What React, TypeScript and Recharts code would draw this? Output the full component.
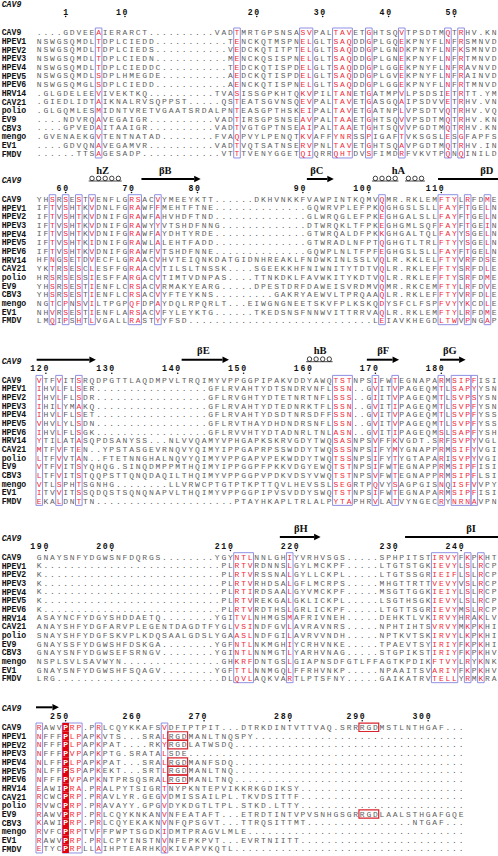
import React from 'react';
import { ScatterChart, Scatter, XAxis, YAxis, ReferenceArea } from 'recharts';

const NAMES = [
  'CAV9', 'HPEV1', 'HPEV2', 'HPEV3', 'HPEV4', 'HPEV5', 'HPEV6', 'HRV14',
  'CAV21', 'polio', 'EV9', 'CBV3', 'mengo', 'EV1', 'FMDV',
];

// aligned sequences, one array per block of the figure
const BLOCK_1 = [
  '....GDVEEAIERARCT' + '..........' + 'VADT' + 'MRTGPSNSASVPALTAVETGHTSQVTPSDTMQTRHV.KN',
  'NSWGSQMDLTDPLCIEDD' + '...........' + 'TE' + 'NCKQTMSPNELGLTSAQDDGPLGQEKPNYFLNFRSMNVD',
  'NSWGSQMDLTDPLCIEDS' + '...........' + 'VE' + 'DCKQTITPTELGLTSAQDDGPLGNDKPNYFLNFKSMNVD',
  'NSWGSQMDLTDPLCIEDN' + '...........' + 'ME' + 'NCKQSISPNELGLTSAQDDGPLGNEKPNYFLNFRTMNVD',
  'NSWGSQMDLTDPLCIEDDC' + '..........' + 'TE' + 'DCKQTISPDELGLTSAQDDGPLGGEKPNYFLNFRAVNVD',
  'NSWGSQMDLSDPLHMEGDE' + '..........' + 'AE' + 'DCKQTISPDELGLTSAQDDGPLGVEKPNYFLNFRAINVD',
  'NSWGSQMGLSDPLCIEDD' + '...........' + 'AE' + 'NCKQTISPNELGLTSAQDDGPLGGEKPNYFLNFRTMNVD',
  '.GLGDELEEVIVEKTKQ' + '..........' + 'TVAS' + 'ISSGPKHTQKVPILTANETGATMPVLPSDSIETRTT.YM',
  '.GIEDLIDTAIKNALRVSQPPST' + '.....' + 'QST' + 'EATSGVNSQEVPALTAVETGASGQAIPSDVVETRHV.VN',
  '.GLGQMLESMIDNTVRETVGAATSRDALPNT' + 'EASGPTHSKEIPALTAVETGATNPLVPSDTVQTRHV.VQ',
  '....NDVRQAVEGAIGR' + '..........' + 'VADT' + 'IRSGPSNSEAVPALTAAETGHTSQVVPSDTMQTRHV.KN',
  '....GPVEDAITAAIGR' + '..........' + 'VADT' + 'VGTGPTNSEAIPALTAAETGHTSQVVPGDTMQTRHV.KN',
  '.GVENAEKGVTENTNATAD' + '........' + 'FVAQ' + 'PVYLPENQTKVAFFYNRSSPIGAFTVKSGSLESGFAPFS',
  '....GDVQNAVEGAMVR' + '..........' + 'VADT' + 'VQTSATNSERVPNLTAVETGHTSQAVPGDTMQTRHV.IN',
  '......TTSAGESADP' + '............' + 'VTT' + 'TVENYGGETQIQRRQHTDVSFIMDRFVKVTPQNQINILD',
];

const BLOCK_2 = [
  'YHSRSESTVENFLGRSACVYMEEYKTT' + '......' + 'DKHVNKKFVAWPINTKQMVQMR.RKLEMFTYLRFDME',
  'IFTVSHTKVDNLFGRAWFFMEHTFTNE' + '..............' + 'GQWRVPLEFPKQGHGSLSLLFAYFTGELN',
  'IFTVSHTKVDNIFGRAWFAHVHDFTND' + '..............' + 'GLWRQGLEFPKEGHGALSLLFAYFTGELN',
  'IFTVSHTKVDNIFGRAWYYVTSHDFNNG' + '.............' + 'DTWRQKLTFPKEGHGMLSQFFAYFTGEIN',
  'IFTVSHTKVDNIFGRAWFAYDHTYRDE' + '..............' + 'GTWRQALDFPKKGHGALTQLFAYYSGELN',
  'IFTVSHTKIDNIFGRAWLALEHTFADD' + '..............' + 'GTWRADLNFPTQGHGTLTRLFTYYSGELN',
  'IFTVSHTKVDNIFGRAWFVTSHDFNNE' + '..............' + 'GQWPLNLTFPFEGHGSLSLLFAYFTGELN',
  'HFNGSETDVECFLGRAACVHVTEIQNKDATG' + 'IDNHREAKLFNDWKINLSSLVQLR.KKLELFTYVRFDSE',
  'YKTRSESCLESFFGRAACVTILSLTNSSK' + '....' + 'SGEEKKHFNIWNITYTDTVQLR.RKLEFFTYSRFDLE',
  'HRSRSESSIESFFARGACVTIMTVDNPAS' + '....' + 'TTNKDKLFAVWKITYKDTVQLR.RKLEFFTYSRFDME',
  'YHSRSESTIENFLCRSACVRMAKYEARG' + '.....' + 'DPESTDRFDAWEISVRDMVQMR.RKCEMFTYLRFDVE',
  'YHSRSESTIENFLCRSACVYFTEYKNS' + '.........' + 'GAKRYAEWVLTPRQAAQLR.RKLEFFTYVRFDLE',
  'NGTCPNSVILTPGPQFDPAYDQLRPQRLT' + '...' + 'EIWGNGNEETSKVFPLKSKQDYSFCLFSPFVYYKCDLE',
  'NHVRSESTIENFLARSACVFYLEYKTG' + '......' + 'TKEDSNSFNNWVITTRRVAQLR.RKLEMFTYLRFDME',
  'LMQIPSHTLVGALLRASTYYFSD' + '............................' + 'LEIAVKHEGDLTWVPNGAP',
];

const BLOCK_3 = [
  'VTFVITSRQDPGTTLAQDMPVLTRQIMYVPP' + 'GGPIPAKVDDYAWQTSTNPSIFWTEGNAPARMSIPFISI',
  'IHVLFLSER' + '.................' + 'GFLRV' + 'AHTYDTSNDRVNFLSSN..GVITVPAGEQMTLSAPYYSN',
  'IHVLFLSDR' + '.................' + 'GFLRV' + 'GHTYDTETNRTNFLSSS..GIITVPAGEQMTLSVPSYSN',
  'IHILYMAKQ' + '.................' + 'GFLRV' + 'AHTYDTEDNRKTFLSSN..GVITIPAGEQMTLSVPFYSN',
  'IHVLFLSET' + '.................' + 'GFLRV' + 'AHTYDSDTNRSDFFSSN..GVITVPAGEQMTLSVPFYSS',
  'VHVLYLSDN' + '.................' + 'GFLRV' + 'THAYDHDNDRSNFLSSN..GVITVPAGEQMTLSVPFYSS',
  'IHVLFLSGK' + '.................' + 'GFLRV' + 'VHTYDTADNRLTNLASN..GVITIPAGEQMSLSAPFYSH',
  'YTILATASQPDSANYSS...NLVVQAMYVPH' + 'GAPKSKRVGDYTWQSASNPSVFFKVGDT.SRFSVPYVGL',
  'MTFVFTEN..YPSTASGEVRNQVYQIMYIPP' + 'GAPRPSSWDDYTWQSSSNPSIFYMYGNAPPRMSIFYVGI',
  'LTFVVTAN..FTETNNGHALNQVYQIMYVPP' + 'GAPVPEKWDDYTWQTSSNPSIFYTYGTAPARISVPYVGI',
  'VTFVITSYQHQG.SINQDMPPMTHQIMYIPP' + 'GGPFPKKVDGYEWQTSTNPSIFWTEGNAPPRMSIPFISI',
  'LTFVITSTQQPSTTQNQDAQILTHQIMYVPP' + 'GGPVPDKVDSYVWQTSTNPSVFWTEGNAPPRMSIPFLSI',
  'VTLSPHTSGNHG........LLVRWCPTGTP' + 'TKPTTQVLHEVSSLSEGRTPQVYSAGPGISNQISFVVPY',
  'ITVVITSSQDQSTSQNQNAPVLTHQIMYVPP' + 'GGPIPVSVDDYSWQTSTNPSIFWTEGNAPARMSIPFISI',
  'EKALDNTTN' + '.....................' + 'P' + 'TAYHKAPLTRLALPYTAPHRVLATVYNGECRYNRNAVPN',
];

const BLOCK_4 = [
  'GNAYSNFYDGWSNFDQRGS' + '........' + 'YGYN' + 'TLNNLGHIYVRHVSGS.....SPHPITSTIRVYFKPKHT',
  'K' + '...........................' + 'PLR' + 'TVRDNNSLGYLMCKPF.....LTGTSTGKIEVYLSLRCP',
  'K' + '...........................' + 'PLR' + 'TVRSSNALGYLLCKPL.....LTGTSSGRIEIFLSLRCP',
  'K' + '...........................' + 'PLR' + 'TVRHDSALGFLMCRPS.....MHGTTRTTVEVYVSLRCP',
  'K' + '...........................' + 'PLR' + 'TIRDSAALGYVMCKPF.....MSGTTGGKIEIYLSLRCP',
  'K' + '...........................' + 'PLR' + 'TVREKGALGKLICKPL.....LSGTHSGKIEVYLSLRCP',
  'K' + '...........................' + 'PLR' + 'TVRDTHSLGRLICKPF.....LTGTTSGRIEVYMSLRCP',
  'ASAYNCFYDGYSHDDAETQ' + '........' + 'YGIT' + 'VLNHMGSMAFRIVNEH.....DEHKTLVKIRVYHRAKLV',
  'ANAYSHFYDGFARVPLEGENTDAGDTFYGLV' + 'SINDFGVLAVRAVNRS.....NPHTIHTSVRVYMKPKHI',
  'SNAYSHFYDGFSKVPLKDQSAALGDSLYGAA' + 'SLNDFGILAVRVVNDH.....NPTKVTSKIRVYLKPKHI',
  'GNAYSSFYDGWSHFDSKGA' + '........' + 'YGFN' + 'TLNKMGHIYCRHVNKE.....TPAEVTSYIRIYFKPKHI',
  'GNAYSNFYDGWSEFSRNGV' + '........' + 'YGIN' + 'TLNNMGTLYARHVNAG.....STGPIKSTIRIYFKPKHV',
  'NSPLSVLSAVWYN' + '...............' + 'GHK' + 'RFDNTGSLGIAPNSDFGTLFFAGTKPDIKFTVYLRYKNK',
  'GNAYSNFYDGWSHFSQAGV' + '........' + 'YGFT' + 'TLNNMGQLFFRHVNKP.....NPAAITSVARIYFKPKHV',
  'LRG' + '.........................' + 'DLQ' + 'VLAQKVARTLPTSFNY.....GAIKATRVTELLYRMKRA',
];

const BLOCK_5 = [
  'RAWVPRP.PRLCQYKKAFSVDFTPTPIT...' + 'DTRKDINTVTTVAQ.SRRRGDMSTLNTHGAF...',
  'NFFFPLPAPKVTS...SRALRGDMANLTNQSPY',
  'NFFFPLPAPKPAT....RKYRGDLATWSDQ',
  'NFFFPVPAPKPTG.SRATALSDE',
  'NLFFPLPAPKPAT...SRALRGDMANFSDQ',
  'NLFFPSPAPKEKT...SRTLRGDMANLTNQ',
  'NFFFPVPAPKNTPRSQSRALRGDMANLTNQ',
  'EAWIPRA.PRALPYTSIGRTNYPKNTEPVIKKRKGDIKSY',
  'RCWCPRP.PRAVLYR.GEGVDMISSAILPL.TKVDSITTF',
  'RVWCPRP.PRAVAYY.GPGVDYKDGTLTPL.STKD.LTTY',
  'RAWVPRP.PRLCQYKNKANVNFEATAFT...' + 'ETRDTINTVPVSNHGSGRRGDLAALSTHGAFGQE',
  'KAWIPRP.PRLCQYEKAKNVNFQPSGVT...' + 'TTRQSITTMT................NTGAF...',
  'RVFCPRPTVFFPWPTSGDKIDMTPRAGVLMLE',
  'RAWVPRP.PRLCPYINSTNVNFEPKPVT...EVRTNIITT',
  'ETYCPRPLLAIHPTEARHKQKIVAPVKQTL',
];

const BLOCKS = [BLOCK_1, BLOCK_2, BLOCK_3, BLOCK_4, BLOCK_5];
const BLOCK_WIDTH = [70, 70, 70, 70, 65];

// framed (similar) column ranges per block
const BOXES = [
  [[9, 9], [30, 30], [40, 41], [45, 47], [50, 50], [55, 55], [62, 62], [64, 64]],
  [[2, 2], [4, 4], [6, 6], [8, 8], [14, 15], [18, 18], [52, 52], [61, 63], [65, 65], [68, 68]],
  [[0, 0], [3, 3], [6, 6], [45, 47], [51, 51], [54, 54], [61, 61], [63, 65], [66, 66]],
  [[30, 32], [38, 38], [60, 63], [65, 65], [67, 67]],
  [[0, 0], [4, 6], [9, 9], [19, 19]],
];
// strictly conserved columns (white on red)
const CONSERVED = [[], [], [], [], [4]];

// RGD motifs: [block, row, fromCol, toCol]
const RGD = [
  [4, 0, 49, 51], [4, 1, 20, 22], [4, 2, 20, 22], [4, 4, 20, 22],
  [4, 5, 20, 22], [4, 6, 20, 22], [4, 10, 49, 51],
];

// ruler labels above each block: [label, column]
const RULERS = [
  [['1', 4], ['10', 13], ['20', 33], ['30', 43], ['40', 53], ['50', 63]],
  [['60', 4], ['70', 14], ['80', 24], ['90', 40], ['100', 50], ['110', 61]],
  [['120', 1], ['130', 11], ['140', 21], ['150', 31], ['160', 41], ['170', 51], ['180', 61]],
  [['190', 1], ['200', 11], ['210', 29], ['220', 39], ['230', 54], ['240', 64]],
  [['250', 4], ['260', 15], ['270', 25], ['280', 38], ['290', 49], ['300', 59]],
];

// CAV9 secondary structure
const SECONDARY = [
  { block: 1, kind: 'helix', from: 8, to: 12, label: 'hZ', at: 9.6 },
  { block: 1, kind: 'arrow', from: 15.5, to: 23.5, label: 'βB', at: 19.1 },
  { block: 1, kind: 'arrow', from: 40.6, to: 43.7, label: 'βC', at: 42.1 },
  { block: 1, kind: 'helix', from: 51, to: 54, label: 'hA', at: 54.5 },
  { block: 1, kind: 'helix', from: 56, to: 58 },
  { block: 1, kind: 'strand', from: 60.5, to: 69.6, label: 'βD', at: 67.9 },
  { block: 2, kind: 'arrow', from: -0.4, to: 7.6 },
  { block: 2, kind: 'arrow', from: 21.6, to: 27.8, label: 'βE', at: 24.9 },
  { block: 2, kind: 'helix', from: 41, to: 44, label: 'hB', at: 42.6 },
  { block: 2, kind: 'arrow', from: 49.7, to: 53.6, label: 'βF', at: 52.2 },
  { block: 2, kind: 'arrow', from: 60.8, to: 63.7, label: 'βG', at: 62.3 },
  { block: 3, kind: 'arrow', from: 36.5, to: 41.7, label: 'βH', at: 39.7 },
  { block: 3, kind: 'strand', from: 55.5, to: 69.6, label: 'βI', at: 65.5 },
  { block: 4, kind: 'arrow', from: -0.5, to: 2.0 },
];

// layout
const W = 498;
const H = 856;
const X_MIN = -5.96;
const X_MAX = 69.6;
const NAME_X = -5.7;
const ROW_H = 8.67;
const FIRST_ROW = [32.3, 199, 379.7, 557, 727.3];
const MONO = "'Liberation Mono', 'Courier New', monospace";
const SERIF = "'Liberation Serif', 'Times New Roman', serif";

const rowY = (b: number, r: number) => FIRST_ROW[b] + r * ROW_H;
const rulerY = (b: number) => (b === 0 ? 11.5 : FIRST_ROW[b] - 11.5);
const headerY = (b: number) => (b === 0 ? 4.3 : FIRST_ROW[b] - 19);

const inBox = (b: number, c: number) => BOXES[b].some(([s, e]) => c >= s && c <= e);

const residues = BLOCKS.map((rows, b) => {
  const out: any[] = [];
  rows.forEach((seq, r) => {
    const s = seq.padEnd(BLOCK_WIDTH[b], '.').slice(0, BLOCK_WIDTH[b]);
    for (let c = 0; c < s.length; c++) {
      const ch = s[c];
      let kind = 'plain';
      if (ch === '.') kind = 'gap';
      else if (CONSERVED[b].includes(c)) kind = 'cons';
      else if (inBox(b, c)) kind = 'sim';
      out.push({ x: c, y: rowY(b, r), ch, kind });
    }
  });
  return out;
});

const names = BLOCKS.flatMap((_, b) =>
  NAMES.map((name, r) => ({ x: NAME_X, y: rowY(b, r), text: name, style: 'name' }))
);
const headers = BLOCKS.map((_, b) => ({ x: NAME_X, y: headerY(b), text: 'CAV9', style: 'header' }));

const rulerDigits = RULERS.flatMap((marks, b) =>
  marks.flatMap(([label, col]) =>
    (label as string).split('').map((d, k, arr) => ({
      x: (col as number) - (arr.length - 1 - k),
      y: rulerY(b),
      ch: d,
      last: k === arr.length - 1,
    }))
  )
);

const ssLabels = SECONDARY.filter((s) => s.label).map((s) => ({
  x: s.at,
  y: FIRST_ROW[s.block] - 29,
  text: s.label,
}));

function Residue(props: any) {
  const { cx, cy, payload } = props;
  if (cx == null || cy == null) return <g />;
  const { ch, kind } = payload;
  if (kind === 'cons') {
    return (
      <g>
        <rect x={cx - 3.3} y={cy - 4.35} width={6.6} height={8.7} fill="#e3000f" />
        <text x={cx} y={cy + 2.8} textAnchor="middle" fontFamily={MONO} fontSize={8} fontWeight="bold" fill="#fff">
          {ch}
        </text>
      </g>
    );
  }
  const fill = kind === 'sim' ? '#ef2b3a' : '#5e5e5e';
  return (
    <text x={cx} y={cy + 2.8} textAnchor="middle" fontFamily={MONO} fontSize={8} fill={fill}>
      {ch}
    </text>
  );
}

function Label(props: any) {
  const { cx, cy, payload } = props;
  if (cx == null) return <g />;
  const header = payload.style === 'header';
  return (
    <text
      x={cx}
      y={cy + 3}
      fontFamily={MONO}
      fontSize={8.2}
      fontWeight="bold"
      fontStyle={header ? 'italic' : 'normal'}
      fill="#111"
    >
      {payload.text}
    </text>
  );
}

function Digit(props: any) {
  const { cx, cy, payload } = props;
  if (cx == null) return <g />;
  return (
    <g>
      <text x={cx} y={cy + 3} textAnchor="middle" fontFamily={MONO} fontSize={8.2} fontWeight="bold" fill="#111">
        {payload.ch}
      </text>
      {payload.last && <circle cx={cx} cy={cy + 5} r={0.8} fill="#111" />}
    </g>
  );
}

function SsLabel(props: any) {
  const { cx, cy, payload } = props;
  if (cx == null) return <g />;
  return (
    <text x={cx} y={cy + 3.5} textAnchor="middle" fontFamily={SERIF} fontSize={10.5} fontWeight="bold" fill="#111">
      {payload.text}
    </text>
  );
}

function ArrowEnd(props: any) {
  const { cx, cy, payload } = props;
  if (cx == null || !payload.head) return <g />;
  return <polygon points={`${cx},${cy - 3.2} ${cx + 6.5},${cy} ${cx},${cy + 3.2}`} fill="#000" />;
}

function HelixTurn(props: any) {
  const { cx, cy } = props;
  if (cx == null) return <g />;
  return (
    <g fill="none" stroke="#111" strokeWidth={0.8}>
      <ellipse cx={cx} cy={cy - 0.6} rx={2.2} ry={2.3} />
      <line x1={cx - 3.3} y1={cy + 2} x2={cx + 3.3} y2={cy + 2} />
    </g>
  );
}

export default function App() {
  return (
    <div style={{ position: 'absolute', left: 0, top: 0, width: W, height: H, background: '#fff' }}>
      <ScatterChart width={W} height={H} margin={{ top: 0, right: 0, bottom: 0, left: 0 }}>
        <XAxis type="number" dataKey="x" domain={[X_MIN, X_MAX]} hide allowDataOverflow />
        <YAxis type="number" dataKey="y" domain={[0, H]} reversed hide allowDataOverflow />

        {BOXES.flatMap((ranges, b) =>
          ranges.map(([s, e]) => (
            <ReferenceArea
              key={`box-${b}-${s}`}
              x1={s - 0.5}
              x2={e + 0.5}
              y1={FIRST_ROW[b] - 4.3}
              y2={rowY(b, NAMES.length - 1) + 4.3}
              fill="none"
              fillOpacity={0}
              stroke="#8f8fe3"
              strokeWidth={1}
              ifOverflow="visible"
            />
          ))
        )}
        {RGD.map(([b, r, s, e]) => (
          <ReferenceArea
            key={`rgd-${b}-${r}`}
            x1={s - 0.5}
            x2={e + 0.5}
            y1={rowY(b, r) - 4.2}
            y2={rowY(b, r) + 4.2}
            fill="none"
            fillOpacity={0}
            stroke="#d8242c"
            strokeWidth={1.2}
            ifOverflow="visible"
          />
        ))}

        {residues.map((data, b) => (
          <Scatter key={`res-${b}`} data={data} shape={Residue} isAnimationActive={false} />
        ))}
        <Scatter data={names} shape={Label} isAnimationActive={false} />
        <Scatter data={headers} shape={Label} isAnimationActive={false} />
        <Scatter data={rulerDigits} shape={Digit} isAnimationActive={false} />
        <Scatter data={ssLabels} shape={SsLabel} isAnimationActive={false} />

        {SECONDARY.map((s, i) => {
          const y = FIRST_ROW[s.block] - 20;
          if (s.kind === 'helix') {
            const turns = [];
            for (let c = s.from; c <= s.to; c++) turns.push({ x: c, y });
            return <Scatter key={`ss-${i}`} data={turns} shape={HelixTurn} isAnimationActive={false} />;
          }
          return (
            <Scatter
              key={`ss-${i}`}
              data={[
                { x: s.from, y },
                { x: s.to, y, head: s.kind === 'arrow' },
              ]}
              line={{ stroke: '#000', strokeWidth: 2 }}
              shape={ArrowEnd}
              isAnimationActive={false}
            />
          );
        })}
      </ScatterChart>
    </div>
  );
}
